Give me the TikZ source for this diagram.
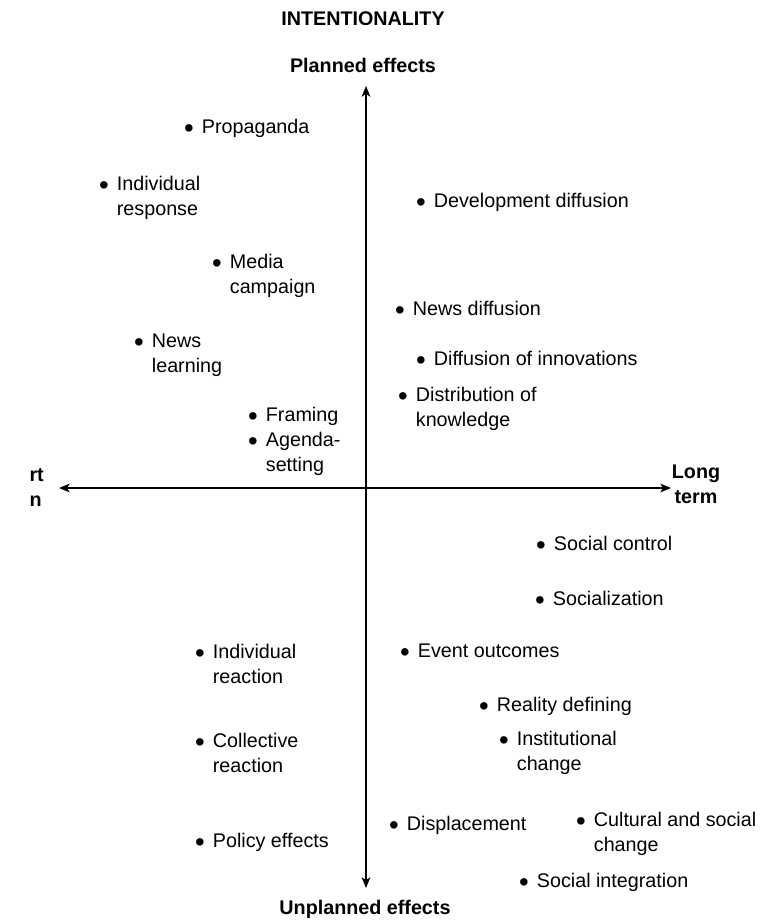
\documentclass[tikz,border=0pt]{standalone}
\usepackage{fontspec}
\setmainfont{Liberation Sans}
\usetikzlibrary{arrows.meta}

\newcommand{\bu}{\makebox[12.3pt][l]{\hspace*{-1pt}\raisebox{-3pt}{\fontsize{20.7}{0}\selectfont\textbullet}}}
\newcommand{\ind}{\hspace*{12.3pt}}

\tikzset{every picture/.style={line width=0.75pt}}
\tikzset{
  item/.style={anchor=base west, inner sep=0pt, align=left, font=\fontsize{14.8}{18.4}\selectfont},
  head/.style={anchor=base, inner sep=0pt, align=center, font=\fontsize{14.8}{18.4}\selectfont\bfseries},
  axis/.style={line width=1pt, {Stealth[length=8pt,width=6.5pt,inset=2pt]}-{Stealth[length=8pt,width=6.5pt,inset=2pt]}}
}

\begin{document}
\begin{tikzpicture}[x=0.75pt,y=0.75pt,yscale=-1]
	\useasboundingbox (0,0) rectangle (778,922);
	
	% Axis end points
	\coordinate (top) at (366,86);
	\coordinate (bottom) at (366,888);
	\coordinate (left) at (59,488);
	\coordinate (right) at (671,488);
	
	% Draw axes
	\draw [axis] (top) -- (bottom);
	\draw [axis] (left) -- (right);
	
	% Add axis labels (two-line nodes sit on their last baseline)
	\draw (363,25) node [head] (intent) {INTENTIONALITY};
	\draw (363,72) node [head] (planned) {Planned effects};
	\draw (365,914) node [head] (unplanned) {Unplanned effects};
	\draw (696,503) node [head] (longterm) {Long\\term};
	\draw (29,506) node [head, anchor=base west, align=left] (shortterm) {rt\\n};
	
	% Add text nodes, upper left
	\draw (185,133) node [item] (propaganda) {\bu Propaganda};
	\draw (100,215) node [item] (indresponse) {\bu Individual\\\ind response};
	\draw (213,293) node [item] (mediacamp) {\bu Media\\\ind campaign};
	\draw (135,372) node [item] (newslearn) {\bu News\\\ind learning};
	\draw (249,421) node [item] (framing) {\bu Framing};
	\draw (249,471) node [item] (agenda) {\bu Agenda-\\\ind setting};
	
	% Add text nodes, upper right
	\draw (417,207) node [item] (devdiff) {\bu Development diffusion};
	\draw (396,315) node [item] (newsdiff) {\bu News diffusion};
	\draw (417,365) node [item] (diffinno) {\bu Diffusion of innovations};
	\draw (399,426) node [item] (distknow) {\bu Distribution of\\\ind knowledge};
	
	% Add text nodes, lower right
	\draw (537,550) node [item] (socctrl) {\bu Social control};
	\draw (536,605) node [item] (socialize) {\bu Socialization};
	\draw (401,657) node [item] (eventout) {\bu Event outcomes};
	\draw (480,711) node [item] (realdef) {\bu Reality defining};
	\draw (500,770) node [item] (instchange) {\bu Institutional\\\ind change};
	\draw (390,830) node [item] (displace) {\bu Displacement};
	\draw (577,851) node [item] (culchange) {\bu Cultural and social\\\ind change};
	\draw (520,887) node [item] (socinteg) {\bu Social integration};
	
	% Add text nodes, lower left
	\draw (196,683) node [item] (indreact) {\bu Individual\\\ind reaction};
	\draw (196,772) node [item] (colreact) {\bu Collective\\\ind reaction};
	\draw (196,847) node [item] (policy) {\bu Policy effects};
\end{tikzpicture}
\end{document}
